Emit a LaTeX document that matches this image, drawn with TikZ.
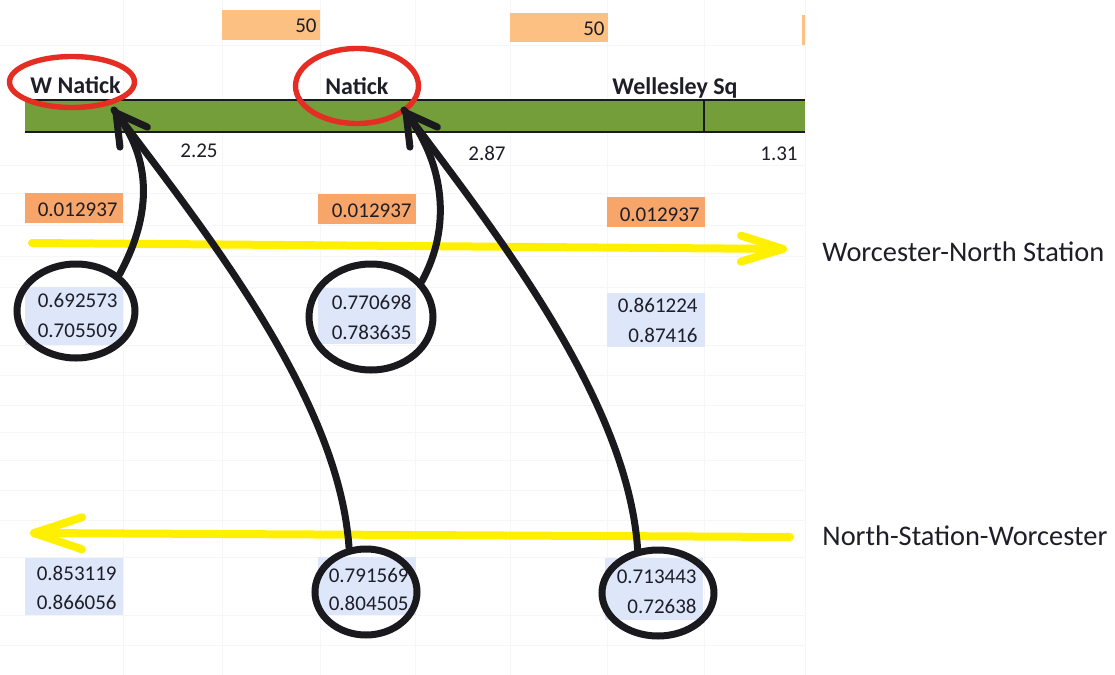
\documentclass[tikz,border=0pt]{standalone}
\usepackage{fontspec}
\setmainfont{Carlito}
\usetikzlibrary{shapes.geometric,arrows.meta}
\definecolor{txt}{RGB}{30,30,40}
\definecolor{orgA}{RGB}{252,192,130}
\definecolor{orgB}{RGB}{248,165,105}
\definecolor{barg}{RGB}{116,158,58}
\definecolor{cellb}{RGB}{221,231,249}
\definecolor{yel}{RGB}{255,240,0}
\definecolor{redc}{RGB}{228,45,35}
\definecolor{inkc}{RGB}{25,25,30}
\definecolor{gridc}{RGB}{246,246,249}
\begin{document}
\begin{tikzpicture}[x=0.5pt,y=-0.5pt,
 num/.style={text=txt, font=\fontsize{10.5}{12}\selectfont, inner sep=0pt},
 lbl/.style={text=txt, font=\fontsize{12}{14}\selectfont\bfseries, inner sep=0pt},
 route/.style={text=txt, font=\fontsize{14.2}{16}\selectfont, inner sep=0pt},
 cellbox/.style={rectangle, inner sep=0pt, anchor=north west, minimum width=49pt},
 redring/.style={ellipse, draw=redc, line width=2.7pt, inner sep=0pt},
 blackring/.style={ellipse, draw=inkc, line width=3.5pt, inner sep=0pt},
 link/.style={draw=inkc, line width=3.5pt, line cap=round},
 yline/.style={draw=yel, line width=4pt, line cap=round},
 gridline/.style={draw=gridc, line width=0.5pt}
]
\useasboundingbox[fill=white] (0,0) rectangle (1115,675);

% faint spreadsheet grid
\foreach \gx in {123,222,320,415,510,607,704,805}
  \draw[gridline] (\gx,0) -- (\gx,675);
\foreach \gy in {45,165,193,225,256,287,345,375,405,432,460,490,520,557,615,645}
  \draw[gridline] (0,\gy) -- (805,\gy);

% orange cells
\node[cellbox, fill=orgA, minimum height=15pt] (c50a) at (222,10) {};
\node[num, anchor=base east] (t50a) at (317,32) {50};
\node[cellbox, fill=orgA, minimum height=14.5pt] (c50b) at (510,13) {};
\node[num, anchor=base east] (t50b) at (605,35) {50};
\node[cellbox, fill=orgA, minimum width=1.5pt, minimum height=15pt] (c50c) at (802,15) {};

\node[cellbox, fill=orgB, minimum height=15pt] (ca) at (25,193) {};
\node[num, anchor=base east] (ta) at (118,216) {0.012937};
\node[cellbox, fill=orgB, minimum height=15pt] (cb) at (318,194) {};
\node[num, anchor=base east] (tb) at (412,217) {0.012937};
\node[cellbox, fill=orgB, minimum height=15pt] (cc) at (607,197) {};
\node[num, anchor=base east] (tc) at (700,221) {0.012937};

% green line bar
\fill[barg] (25,100) rectangle (805,132);
\draw[inkc, line width=1pt] (25,100) -- (805,100);
\draw[inkc, line width=1pt] (25,132) -- (805,132);
\draw[inkc, line width=1pt] (704,100) -- (704,132);

% station labels
\node[lbl, anchor=base west] (sWN) at (30,93) {W Natick};
\node[lbl, anchor=base west] (sN) at (325,94) {Natick};
\node[lbl, anchor=base west] (sWS) at (612,94) {Wellesley Sq};

\node[num, anchor=base east] (d1) at (218,157) {2.25};
\node[num, anchor=base east] (d2) at (506,160) {2.87};
\node[num, anchor=base east] (d3) at (798,160) {1.31};

% blue cells
\node[cellbox, fill=cellb, minimum height=29pt] (b1) at (25,287) {};
\node[num, anchor=base east] (b1a) at (118,307) {0.692573};
\node[num, anchor=base east] (b1b) at (118,337) {0.705509};
\node[cellbox, fill=cellb, minimum height=28pt] (b2) at (318,288) {};
\node[num, anchor=base east] (b2a) at (412,309) {0.770698};
\node[num, anchor=base east] (b2b) at (412,339) {0.783635};
\node[cellbox, fill=cellb, minimum height=27pt] (b3) at (607,293) {};
\node[num, anchor=base east] (b3a) at (698,312) {0.861224};
\node[num, anchor=base east] (b3b) at (698,342) {0.87416};

\node[cellbox, fill=cellb, minimum height=28.5pt] (b4) at (25,558) {};
\node[num, anchor=base east] (b4a) at (117,580) {0.853119};
\node[num, anchor=base east] (b4b) at (117,609) {0.866056};
\node[cellbox, fill=cellb, minimum height=29pt] (b5) at (318,557) {};
\node[num, anchor=base east] (b5a) at (409,582) {0.791569};
\node[num, anchor=base east] (b5b) at (409,610) {0.804505};
\node[cellbox, fill=cellb, minimum height=31pt] (b6) at (605,558) {};
\node[num, anchor=base east] (b6a) at (697,583) {0.713443};
\node[num, anchor=base east] (b6b) at (697,613) {0.72638};

% route labels
\node[route, anchor=base west] (rt1) at (822,261) {Worcester-North Station};
\node[route, anchor=base west] (rt2) at (822,545) {North-Station-Worcester};

% yellow direction arrows
\coordinate (ytA) at (32,243);
\coordinate (ytB) at (787,249);
\draw[yline, -{Straight Barb[length=21pt,width=13pt,round]}] (ytA) -- (ytB);
\coordinate (ybA) at (790,537);
\coordinate (ybB) at (30,533);
\draw[yline, -{Straight Barb[length=24pt,width=16pt,round]}] (ybA) -- (ybB);

% black rings
\node[blackring, minimum width=59pt, minimum height=47pt] (e1) at (76,311) {};
\node[blackring, minimum width=62pt, minimum height=53pt] (e2) at (371,317) {};
\node[blackring, minimum width=51pt, minimum height=43pt] (e3) at (366,592) {};
\node[blackring, minimum width=56pt, minimum height=43pt] (e4) at (658,593) {};

% red rings
\node[redring, minimum width=62.5pt, minimum height=25.5pt] (rWN) at (72,82) {};
\node[redring, minimum width=61.5pt, minimum height=37.5pt] (rN) at (357,86) {};

% connectors
\coordinate (tipA) at (114,110);
\coordinate (tipB) at (404,110);
\draw[link, -{Straight Barb[length=15pt,width=17pt,round]}] (e1.40) .. controls +(30,-55) and +(40,55) .. (tipA);
\draw[link] (e3.111) .. controls +(-10,-150) and +(90,120) .. (tipA);
\draw[link, -{Straight Barb[length=15pt,width=17pt,round]}] (e2.35) .. controls +(30,-55) and +(40,55) .. (tipB);
\draw[link] (e4.115) .. controls +(-10,-150) and +(90,120) .. (tipB);
\end{tikzpicture}
\end{document}
